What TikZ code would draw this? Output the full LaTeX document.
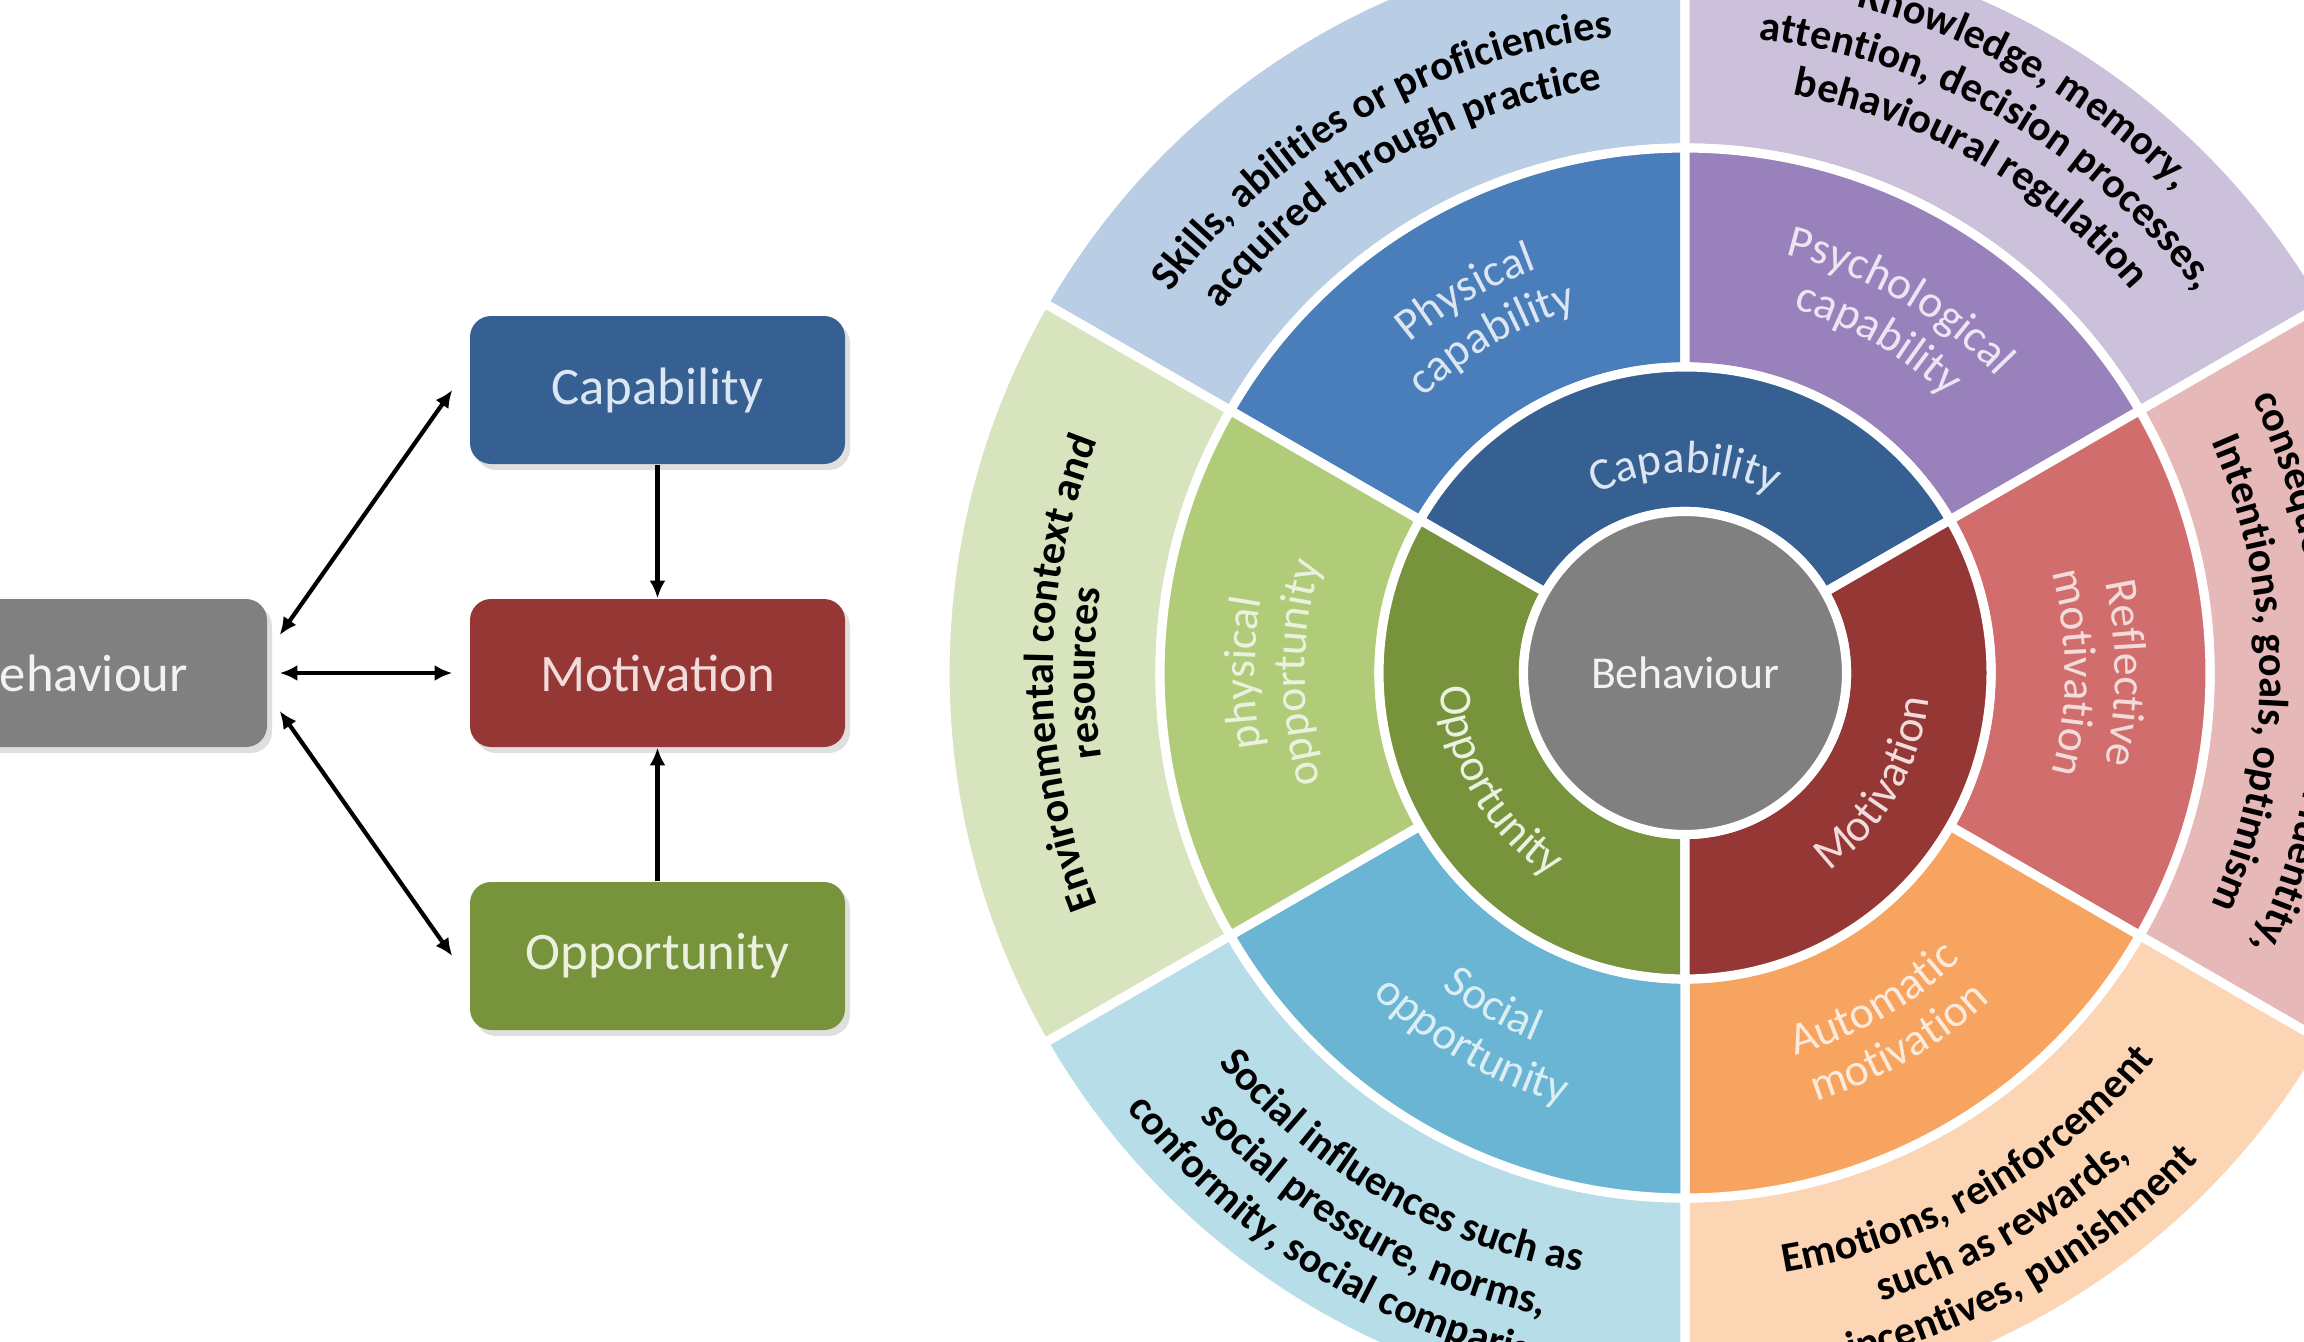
\documentclass[tikz,border=0pt]{standalone}
\usepackage{fontspec}
\setmainfont{Carlito}
\usepackage{tikz}
\usetikzlibrary{decorations.text,shadows,arrows.meta}

\definecolor{capdark}{RGB}{54,96,146}
\definecolor{motdark}{RGB}{149,55,53}
\definecolor{oppdark}{RGB}{119,147,60}
\definecolor{behgray}{RGB}{128,128,128}
\definecolor{physcap}{RGB}{74,126,187}
\definecolor{psycap}{RGB}{153,130,187}
\definecolor{reflmot}{RGB}{209,110,109}
\definecolor{automot}{RGB}{247,164,96}
\definecolor{socopp}{RGB}{106,180,212}
\definecolor{physopp}{RGB}{177,204,121}
\definecolor{skillsout}{RGB}{185,205,229}
\definecolor{knowout}{RGB}{204,193,218}
\definecolor{reflout}{RGB}{230,185,184}
\definecolor{autoout}{RGB}{252,213,181}
\definecolor{socout}{RGB}{183,222,232}
\definecolor{envout}{RGB}{215,228,189}
\definecolor{captext}{RGB}{220,230,242}
\definecolor{mottext}{RGB}{242,220,219}
\definecolor{opptext}{RGB}{235,241,222}
\definecolor{behtext}{RGB}{242,242,242}
\definecolor{psytext}{RGB}{236,230,244}
\definecolor{autotext}{RGB}{253,234,218}
\definecolor{soctext}{RGB}{218,238,243}

\tikzset{
  combbox/.style={rounded corners=6pt, minimum width=3.75cm, minimum height=1.48cm,
    font=\fontsize{15}{18}\selectfont,
    drop shadow={opacity=0.25, shadow xshift=0.05cm, shadow yshift=-0.06cm}},
  link/.style={line width=1.2pt},
  sector/.style={draw=white, line width=2.6pt},
  ringlabel/.style 2 args={decorate, decoration={text along path, text align=center,
    text={|\fontsize{13}{15}\selectfont\color{#1}|#2}}},
  outlabel/.style={decorate, decoration={text along path, text align=center,
    text={|\fontsize{12}{14}\selectfont\bfseries|#1}}}
}

\begin{document}
\begin{tikzpicture}
\useasboundingbox (0,0) rectangle (23.04,13.41);

\node[combbox, fill=behgray, text=behtext] (behbox) at (0.795,6.68) {Behaviour};
\node[combbox, fill=capdark, text=captext] (capbox) at (6.575,9.51) {Capability};
\node[combbox, fill=motdark, text=mottext] (motbox) at (6.575,6.68) {Motivation};
\node[combbox, fill=oppdark, text=opptext] (oppbox) at (6.575,3.85) {Opportunity};

\draw[link, {Latex[length=5pt,width=4.5pt]}-{Latex[length=5pt,width=4.5pt]}] ([shift={(0.12,0.38)}]behbox.east) -- ([xshift=-0.17cm]capbox.west);
\draw[link, {Latex[length=5pt,width=4.5pt]}-{Latex[length=5pt,width=4.5pt]}] ([xshift=0.12cm]behbox.east) -- ([xshift=-0.17cm]motbox.west);
\draw[link, {Latex[length=5pt,width=4.5pt]}-{Latex[length=5pt,width=4.5pt]}] ([shift={(0.12,-0.38)}]behbox.east) -- ([xshift=-0.17cm]oppbox.west);
\draw[link, -{Latex[length=5pt,width=4.5pt]}] (capbox.south) -- (motbox.north);
\draw[link, -{Latex[length=5pt,width=4.5pt]}] (oppbox.north) -- (motbox.south);

\begin{scope}[shift={(16.85,6.68)}]
\filldraw[sector, fill=skillsout] (90:5.25) arc (90:150:5.25) -- (150:7.4) arc (150:90:7.4) -- cycle;
\filldraw[sector, fill=knowout] (30:5.25) arc (30:90:5.25) -- (90:7.4) arc (90:30:7.4) -- cycle;
\filldraw[sector, fill=reflout] (-30:5.25) arc (-30:30:5.25) -- (30:7.4) arc (30:-30:7.4) -- cycle;
\filldraw[sector, fill=autoout] (270:5.25) arc (270:330:5.25) -- (330:7.4) arc (330:270:7.4) -- cycle;
\filldraw[sector, fill=socout] (210:5.25) arc (210:270:5.25) -- (270:7.4) arc (270:210:7.4) -- cycle;
\filldraw[sector, fill=envout] (150:5.25) arc (150:210:5.25) -- (210:7.4) arc (210:150:7.4) -- cycle;

\filldraw[sector, fill=physcap] (90:3.06) arc (90:150:3.06) -- (150:5.25) arc (150:90:5.25) -- cycle;
\filldraw[sector, fill=psycap] (30:3.06) arc (30:90:3.06) -- (90:5.25) arc (90:30:5.25) -- cycle;
\filldraw[sector, fill=reflmot] (-30:3.06) arc (-30:30:3.06) -- (30:5.25) arc (30:-30:5.25) -- cycle;
\filldraw[sector, fill=automot] (270:3.06) arc (270:330:3.06) -- (330:5.25) arc (330:270:5.25) -- cycle;
\filldraw[sector, fill=socopp] (210:3.06) arc (210:270:3.06) -- (270:5.25) arc (270:210:5.25) -- cycle;
\filldraw[sector, fill=physopp] (150:3.06) arc (150:210:3.06) -- (210:5.25) arc (210:150:5.25) -- cycle;

\filldraw[sector, fill=capdark] (30:1.615) arc (30:150:1.615) -- (150:3.06) arc (150:30:3.06) -- cycle;
\filldraw[sector, fill=oppdark] (150:1.615) arc (150:270:1.615) -- (270:3.06) arc (270:150:3.06) -- cycle;
\filldraw[sector, fill=motdark] (270:1.615) arc (270:390:1.615) -- (390:3.06) arc (390:270:3.06) -- cycle;

\node[circle, sector, fill=behgray, minimum size=3.23cm, text=behtext,
  font=\fontsize{13}{15}\selectfont] (behwheel) at (0,0) {Behaviour};

\path[ringlabel={captext}{Capability}] (150:2.0) arc (150:30:2.0);
\path[ringlabel={mottext}{Motivation}] (270:2.45) arc (270:390:2.45);
\path[ringlabel={opptext}{Opportunity}] (150:2.45) arc (150:270:2.45);

\path[ringlabel={captext}{Physical}] (150:4.3) arc (150:90:4.3);
\path[ringlabel={captext}{capability}] (150:3.8) arc (150:90:3.8);
\path[ringlabel={psytext}{Psychological}] (90:4.3) arc (90:30:4.3);
\path[ringlabel={psytext}{capability}] (90:3.8) arc (90:30:3.8);
\path[ringlabel={mottext}{Reflective}] (30:4.3) arc (30:-30:4.3);
\path[ringlabel={mottext}{motivation}] (30:3.8) arc (30:-30:3.8);
\path[ringlabel={autotext}{Automatic}] (270:3.98) arc (270:330:3.98);
\path[ringlabel={autotext}{motivation}] (270:4.48) arc (270:330:4.48);
\path[ringlabel={soctext}{Social}] (210:3.98) arc (210:270:3.98);
\path[ringlabel={soctext}{opportunity}] (210:4.48) arc (210:270:4.48);
\path[ringlabel={opptext}{physical}] (210:4.3) arc (210:150:4.3);
\path[ringlabel={opptext}{opportunity}] (210:3.8) arc (210:150:3.8);

\path[outlabel={Skills, abilities or proficiencies}] (150:6.4) arc (150:90:6.4);
\path[outlabel={acquired through practice}] (150:5.9) arc (150:90:5.9);
\path[outlabel={Knowledge, memory,}] (90:6.88) arc (90:30:6.88);
\path[outlabel={attention, decision processes,}] (90:6.38) arc (90:30:6.38);
\path[outlabel={behavioural regulation}] (90:5.88) arc (90:30:5.88);
\path[outlabel={consequences, role and identity,}] (30:6.3) arc (30:-30:6.3);
\path[outlabel={Intentions, goals, optimism}] (30:5.75) arc (30:-30:5.75);
\path[outlabel={Emotions, reinforcement}] (270:6.08) arc (270:330:6.08);
\path[outlabel={such as rewards,}] (270:6.58) arc (270:330:6.58);
\path[outlabel={incentives, punishment}] (270:7.08) arc (270:330:7.08);
\path[outlabel={Social influences such as}] (210:6.08) arc (210:270:6.08);
\path[outlabel={social pressure, norms,}] (210:6.58) arc (210:270:6.58);
\path[outlabel={conformity, social comparisons}] (210:7.08) arc (210:270:7.08);
\path[outlabel={Environmental context and}] (210:6.32) arc (210:150:6.32);
\path[outlabel={resources}] (210:5.9) arc (210:150:5.9);
\end{scope}
\end{tikzpicture}
\end{document}
